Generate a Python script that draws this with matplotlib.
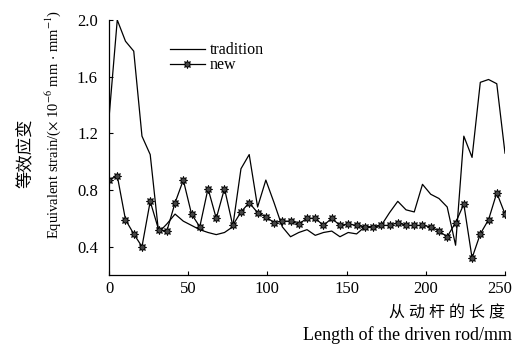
import numpy as np
import matplotlib
matplotlib.use('Agg')
import matplotlib.pyplot as plt
import matplotlib.transforms as mtransforms

plt.rcParams['font.family'] = ['Liberation Serif', 'Noto Sans CJK SC']
plt.rcParams['mathtext.fontset'] = 'stix'

# positions along the driven rod (mm)
x = [0.0, 5.2, 10.4, 15.6, 20.8, 26.0, 31.3, 36.5, 41.7, 46.9,
     52.1, 57.3, 62.5, 67.7, 72.9, 78.1, 83.3, 88.5, 93.8, 99.0,
     104.2, 109.4, 114.6, 119.8, 125.0, 130.2, 135.4, 140.6, 145.8, 151.0,
     156.3, 161.5, 166.7, 171.9, 177.1, 182.3, 187.5, 192.7, 197.9, 203.1,
     208.3, 213.5, 218.8, 224.0, 229.2, 234.4, 239.6, 244.8, 250.0]

tradition = [1.31, 2.00, 1.85, 1.78, 1.18, 1.05, 0.50, 0.56, 0.63, 0.58,
             0.55, 0.52, 0.50, 0.485, 0.50, 0.54, 0.95, 1.05, 0.68, 0.87,
             0.71, 0.54, 0.47, 0.50, 0.52, 0.48, 0.50, 0.51, 0.47, 0.50,
             0.49, 0.54, 0.54, 0.55, 0.64, 0.72, 0.66, 0.645, 0.84, 0.77,
             0.74, 0.68, 0.41, 1.18, 1.03, 1.56, 1.58, 1.55, 1.06]

new = [0.87, 0.90, 0.59, 0.49, 0.40, 0.72, 0.52, 0.51, 0.71, 0.87,
       0.63, 0.54, 0.81, 0.60, 0.81, 0.55, 0.645, 0.71, 0.64, 0.61,
       0.57, 0.58, 0.58, 0.56, 0.60, 0.60, 0.55, 0.60, 0.55, 0.56,
       0.55, 0.54, 0.54, 0.55, 0.55, 0.57, 0.55, 0.55, 0.55, 0.54,
       0.51, 0.47, 0.57, 0.70, 0.32, 0.49, 0.59, 0.78, 0.63]

fig = plt.figure(figsize=(5.15, 3.44), dpi=100)
ax = fig.add_axes([0.2117, 0.2006, 0.7689, 0.7413])

ax.plot(x, tradition, color='black', linewidth=0.9, label='tradition')
ax.plot(x, new, color='black', linewidth=0.9, marker=(8, 1, 0), markersize=6,
        markerfacecolor='#444444', markeredgecolor='black', markeredgewidth=0.6,
        label='new')

ax.set_xlim(0, 250)
ax.set_ylim(0.2, 2.0)
ax.set_xticks([0, 50, 100, 150, 200, 250])
ax.set_yticks([0.4, 0.8, 1.2, 1.6, 2.0])
ax.set_yticklabels(['0.4', '0.8', '1.2', '1.6', '2.0'])
ax.tick_params(direction='in', length=3, width=0.8, labelsize=12)
ax.tick_params(axis='y', pad=8)
ax.tick_params(axis='x', pad=4)
for s in ['top', 'right']:
    ax.spines[s].set_visible(False)
for s in ['left', 'bottom']:
    ax.spines[s].set_linewidth(0.9)

# nudge the last x label left so it stays inside the picture
last = ax.get_xticklabels()[-1]
last.set_transform(last.get_transform() + mtransforms.ScaledTranslation(-5 / 100, 0, fig.dpi_scale_trans))

ax.legend(loc='upper left', bbox_to_anchor=(0.153, 0.913), frameon=False,
          fontsize=11.5, handlelength=2.2, handletextpad=0.3, labelspacing=-0.05,
          borderaxespad=0, borderpad=0)

fig.text(0.981, 0.09, '从 动 杆 的 长 度', ha='right', va='center', fontsize=11.5)
fig.text(0.994, 0.026, 'Length of the driven rod/mm', ha='right', va='center', fontsize=13)
fig.text(0.052, 0.555, '等效应变', rotation=90, ha='center', va='center', fontsize=12.5)
fig.text(0.103, 0.637, r'Equivalent strain/($\times$ 10$^{-6}$ mm $\cdot$ mm$^{-1}$)',
         rotation=90, ha='center', va='center', fontsize=10.5)

fig.savefig('out.png', dpi=100)
